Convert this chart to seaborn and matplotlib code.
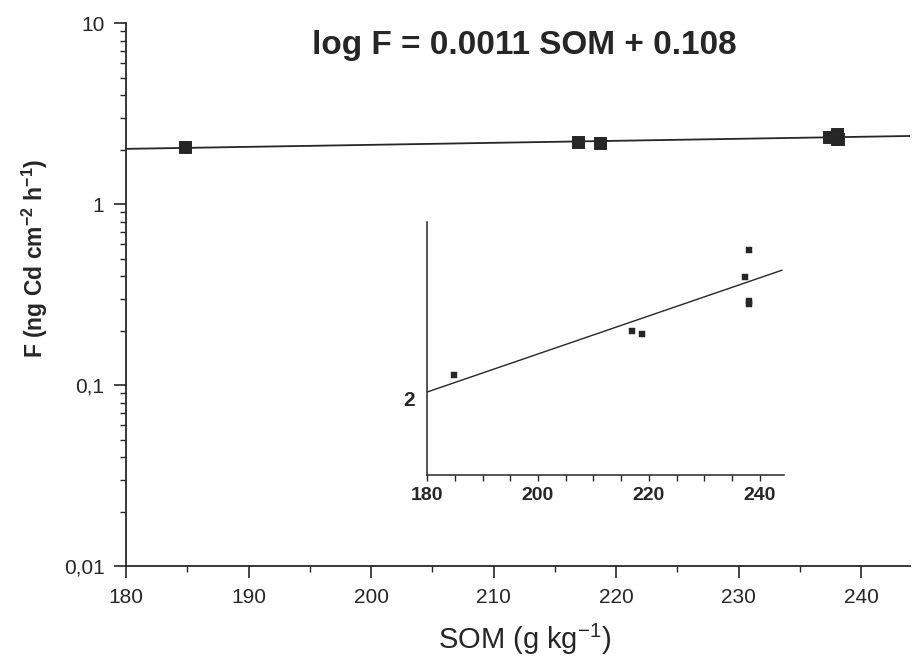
import numpy as np
import pandas as pd
import matplotlib
matplotlib.use("Agg")
import matplotlib.pyplot as plt
import seaborn as sns
from matplotlib.ticker import FixedLocator, MultipleLocator, LogLocator, NullFormatter

# data
som = [184.8, 216.9, 218.7, 237.4, 238.0, 238.0, 238.1]
flux = [2.07, 2.20, 2.19, 2.36, 2.44, 2.28, 2.29]
fit_som = [180, 244]
fit_flux = [2.02, 2.38]          # log F = 0.0011 SOM + 0.108
y_ticks = [0.01, 0.1, 1, 10]
y_labels = ["0,01", "0,1", "1", "10"]
x_ticks = [180, 190, 200, 210, 220, 230, 240]
inset_x_ticks = [180, 200, 220, 240]

pts = pd.DataFrame({"SOM": som, "F": flux})
fit = pd.DataFrame({"SOM": fit_som, "F": fit_flux})

INK = "#262626"

sns.set_theme(style="white")
plt.rcParams["font.family"] = ["Liberation Sans", "DejaVu Sans"]

fig = plt.figure(figsize=(9.17, 6.62), dpi=100)
ax = fig.add_axes([0.1374, 0.145, 0.855, 0.820])

sns.lineplot(data=fit, x="SOM", y="F", color=INK, lw=1.3, ax=ax)
sns.scatterplot(data=pts, x="SOM", y="F", marker="s", s=75, color=INK,
                edgecolor=INK, ax=ax, zorder=3)

ax.set_yscale("log")
ax.set_xlim(180, 244)
ax.set_ylim(0.01, 10)
ax.yaxis.set_major_locator(FixedLocator(y_ticks))
ax.set_yticklabels(y_labels)
ax.yaxis.set_minor_locator(LogLocator(base=10, subs=np.arange(2, 10)))
ax.yaxis.set_minor_formatter(NullFormatter())
ax.xaxis.set_major_locator(FixedLocator(x_ticks))
ax.xaxis.set_minor_locator(MultipleLocator(5))
ax.tick_params(axis="both", which="major", direction="out", length=8.5, width=1.2,
               color=INK, labelsize=15, labelcolor=INK, pad=7,
               left=True, bottom=True)
ax.tick_params(axis="both", which="minor", direction="out", length=4.3, width=1.0,
               color=INK, left=True, bottom=True)
for sp in ["top", "right"]:
    ax.spines[sp].set_visible(False)
for sp in ["left", "bottom"]:
    ax.spines[sp].set_color(INK)
    ax.spines[sp].set_linewidth(1.3)

ax.set_xlabel("SOM (g kg$^{\\mathregular{-1}}$)", fontsize=21, color=INK)
ax.xaxis.set_label_coords(0.508, -0.103)
ax.set_ylabel("F (ng Cd cm$^{\\mathregular{-2}}$ h$^{\\mathregular{-1}}$)", fontsize=16.5,
              fontweight="bold", color=INK)
ax.yaxis.set_label_coords(-0.097, 0.567)
ax.text(0.508, 0.9595, "log F = 0.0011 SOM + 0.108", transform=ax.transAxes,
        ha="center", va="center", fontsize=24, fontweight="bold", color=INK)

# inset
ins = fig.add_axes([0.4657, 0.2825, 0.389, 0.382])
ins.set_facecolor("none")
sns.lineplot(data=fit, x="SOM", y="F", color=INK, lw=1.0, ax=ins)
sns.scatterplot(data=pts, x="SOM", y="F", marker="s", s=16, color=INK,
                edgecolor=INK, ax=ins, zorder=3)
ins.set_xlim(180, 244.3)
ins.set_ylim(1.775, 2.522)
ins.xaxis.set_major_locator(FixedLocator(inset_x_ticks))
ins.xaxis.set_minor_locator(MultipleLocator(5))
ins.yaxis.set_major_locator(FixedLocator([2]))
ins.tick_params(axis="x", which="both", direction="out", length=4, width=1.0,
                color=INK, bottom=True, labelsize=14, pad=5)
ins.tick_params(axis="y", which="both", length=0, labelsize=15, pad=9)
for lab in ins.get_xticklabels() + ins.get_yticklabels():
    lab.set_fontweight("bold")
    lab.set_color(INK)
for sp in ["top", "right"]:
    ins.spines[sp].set_visible(False)
for sp in ["left", "bottom"]:
    ins.spines[sp].set_color(INK)
    ins.spines[sp].set_linewidth(1.1)
ins.set_xlabel("")
ins.set_ylabel("")

fig.savefig("out.png", dpi=100)
